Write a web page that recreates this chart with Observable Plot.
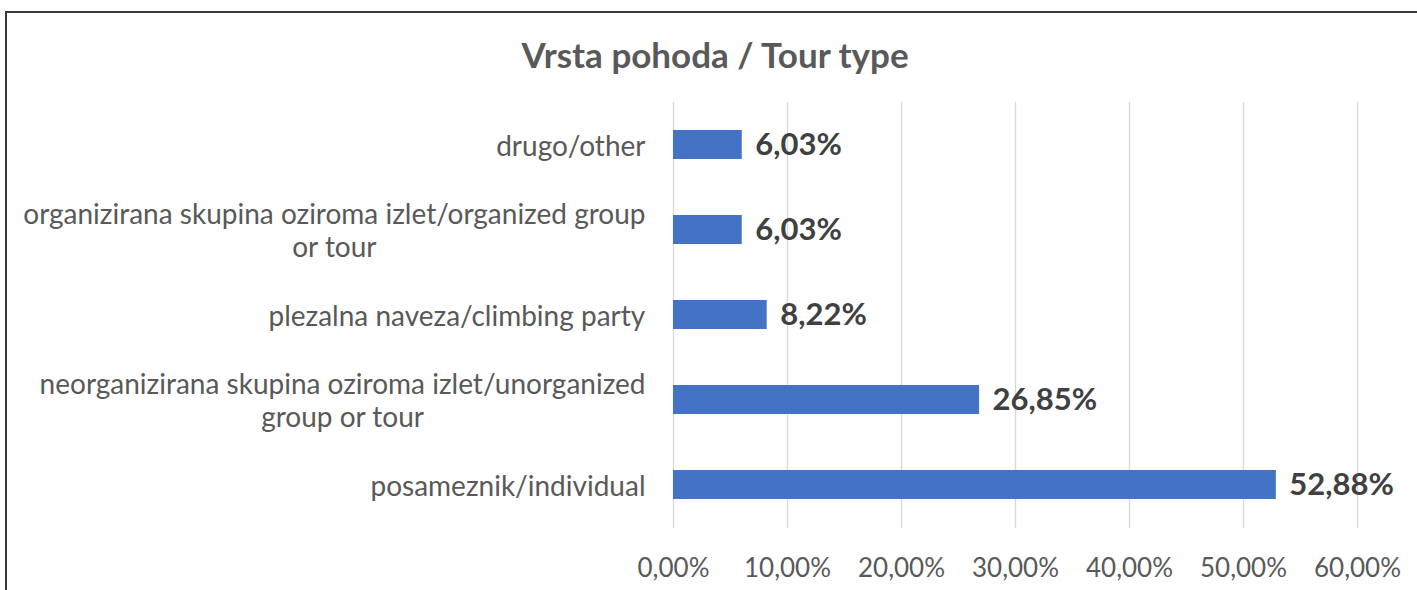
<!DOCTYPE html>
<html>
<head>
<meta charset="utf-8">
<script src="https://cdn.jsdelivr.net/npm/d3@7"></script>
<script src="https://cdn.jsdelivr.net/npm/@observablehq/plot@0.6"></script>
<style>
  html, body { margin: 0; padding: 0; background: #fff; }
  #wrap { position: relative; width: 1417px; height: 590px; overflow: hidden; font-family: Lato, "Open Sans", sans-serif; }
  #frame { position: absolute; left: 5px; top: 11px; width: 1500px; height: 700px; border-left: 2px solid #3a3a3a; border-top: 2px solid #3a3a3a; box-sizing: border-box; }
  #title { position: absolute; left: 0; width: 1430px; top: 32px; text-align: center; font-weight: bold; font-size: 35px; color: #595959; line-height: 44px; }
  #chart { position: absolute; left: 0; top: 0; }
</style>
</head>
<body>
<div id="wrap">
  <div id="frame"></div>
  <div id="title">Vrsta pohoda / Tour type</div>
  <div id="chart"></div>
</div>
<script>
const categories = [
  "drugo/other",
  "organizirana skupina oziroma izlet/organized group or tour",
  "plezalna naveza/climbing party",
  "neorganizirana skupina oziroma izlet/unorganized group or tour",
  "posameznik/individual"
];
const labels = [
  "drugo/other",
  "organizirana skupina oziroma izlet/organized group\nor tour",
  "plezalna naveza/climbing party",
  "neorganizirana skupina oziroma izlet/unorganized\ngroup or tour",
  "posameznik/individual"
];
const values = [6.03, 6.03, 8.22, 26.85, 52.88];
const ticks = [0, 10, 20, 30, 40, 50, 60];

const data = categories.map((c, i) => ({category: c, label: labels[i], value: values[i]}));
const fmt = v => v.toFixed(2).replace(".", ",") + "%";

const chart = Plot.plot({
  width: 1417,
  height: 590,
  marginLeft: 673,
  marginRight: 60,
  marginTop: 102,
  marginBottom: 62,
  style: {fontFamily: "Lato, 'Open Sans', sans-serif", background: "transparent", overflow: "visible"},
  x: {domain: [0, 60], ticks: ticks, tickFormat: fmt},
  y: {domain: categories, paddingInner: 0.655, paddingOuter: 0.3275, axis: null},
  marks: [
    Plot.gridX(ticks, {stroke: "#d9d9d9", strokeOpacity: 1, strokeWidth: 1.3}),
    Plot.axisX(ticks, {tickSize: 0, tickPadding: 30, tickFormat: fmt, fontSize: 26, fill: "#595959", label: null}),
    Plot.barX(data, {x: "value", y: "category", fill: "#4472C4"}),
    Plot.text(data, {x: "value", y: "category", text: d => fmt(d.value), textAnchor: "start", dx: 13, fontSize: 31, fontWeight: "bold", fill: "#404040"}),
    Plot.text(data, {y: "category", text: "label", frameAnchor: "left", textAnchor: "end", dx: -28, fontSize: 28, lineHeight: 1.18, fill: "#595959", className: "catlabel"})
  ]
});
document.getElementById("chart").appendChild(chart);

// center the lines of each multi-line category label on one another, keeping the right edge
chart.querySelectorAll("g.catlabel text").forEach(t => {
  const b = t.getBBox();
  const cx = b.x + b.width / 2;
  t.setAttribute("text-anchor", "middle");
  const spans = t.querySelectorAll("tspan");
  if (spans.length) spans.forEach(s => s.setAttribute("x", cx));
  else t.setAttribute("x", (+(t.getAttribute("x") || 0)) + cx - (b.x + b.width));
});
</script>
</body>
</html>
